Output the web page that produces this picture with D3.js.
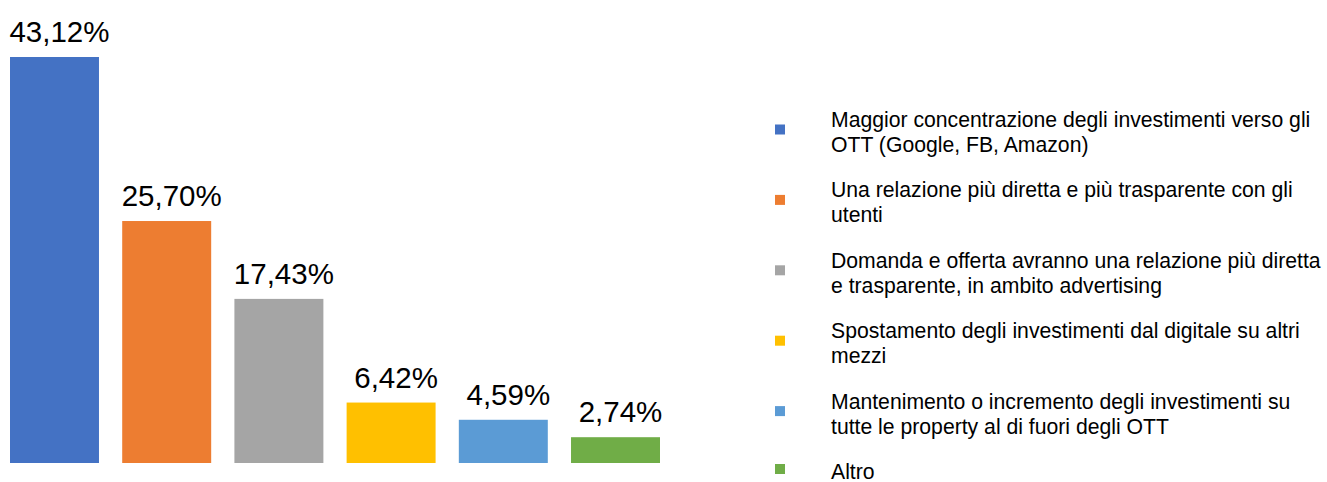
<!DOCTYPE html>
<html>
<head>
<meta charset="utf-8">
<script src="https://cdn.jsdelivr.net/npm/d3@7"></script>
<style>
  html, body { margin: 0; padding: 0; background: #fff; }
  svg { display: block; font-family: "Liberation Sans", Arial, sans-serif; }
</style>
</head>
<body>
<div id="chart"></div>
<script>
// data
const categories = [
  ["Maggior concentrazione degli investimenti verso gli", "OTT (Google, FB, Amazon)"],
  ["Una relazione più diretta e più trasparente con gli", "utenti"],
  ["Domanda e offerta avranno una relazione più diretta", "e trasparente, in ambito advertising"],
  ["Spostamento degli investimenti dal digitale su altri", "mezzi"],
  ["Mantenimento o incremento degli investimenti su", "tutte le property al di fuori degli OTT"],
  ["Altro"]
];
const values = [43.12, 25.70, 17.43, 6.42, 4.59, 2.74];
const colors = ["#4472C4", "#ED7D31", "#A5A5A5", "#FFC000", "#5B9BD5", "#70AD47"];

const width = 1327, height = 482;
const it = d3.formatLocale({decimal: ",", thousands: ".", grouping: [3], currency: ["", " €"]});
const fmt = v => it.format(".2f")(v) + "%";

const svg = d3.select("#chart").append("svg")
  .attr("width", width)
  .attr("height", height);

const idx = d3.range(values.length);

const x = d3.scaleBand()
  .domain(idx)
  .range([10, 660])
  .paddingInner(0.207)
  .paddingOuter(0);

const y = d3.scaleLinear()
  .domain([0, d3.max(values)])
  .range([463, 57]);

// bars
svg.append("g").selectAll("rect")
  .data(idx)
  .join("rect")
  .attr("x", i => x(i))
  .attr("y", i => y(values[i]))
  .attr("width", x.bandwidth())
  .attr("height", i => y(0) - y(values[i]))
  .attr("fill", i => colors[i]);

// value labels (sit a bit right of the bar centre, like the original)
svg.append("g").selectAll("text")
  .data(idx)
  .join("text")
  .attr("x", i => x(i) + x.bandwidth() / 2 + 5)
  .attr("y", i => y(values[i]) - 15)
  .attr("text-anchor", "middle")
  .style("font-size", "29.5px")
  .attr("fill", "#000")
  .text(i => fmt(values[i]));

// legend
const lineH = 25, capH = 14;
const ly = d3.scalePoint()
  .domain(idx)
  .range([127, 479]);

const leg = svg.append("g").selectAll("g")
  .data(idx)
  .join("g")
  .attr("transform", i => `translate(0, ${ly(i)})`);

leg.append("rect")
  .attr("x", 775)
  .attr("y", i => ((categories[i].length - 1) * lineH - capH) / 2 - 8)
  .attr("width", 10)
  .attr("height", 10)
  .attr("fill", i => colors[i]);

leg.append("text")
  .attr("x", 831)
  .style("font-size", "21.2px")
  .attr("fill", "#000")
  .selectAll("tspan")
  .data(i => categories[i])
  .join("tspan")
  .attr("x", 831)
  .attr("dy", (d, j) => j === 0 ? 0 : lineH)
  .text(d => d);
</script>
</body>
</html>
